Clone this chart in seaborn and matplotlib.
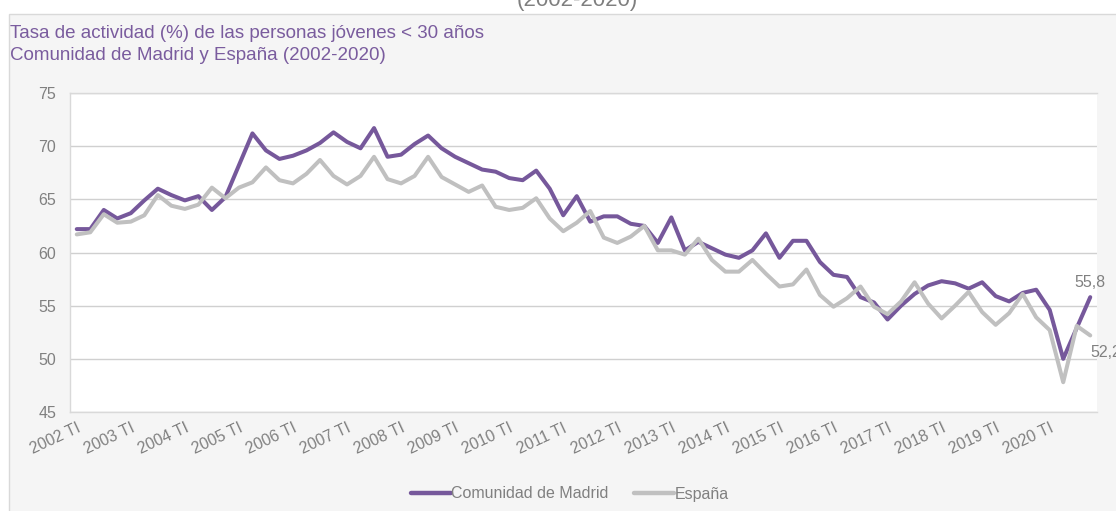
import numpy as np
import pandas as pd
import matplotlib
matplotlib.use("Agg")
import matplotlib.pyplot as plt
from matplotlib.patches import Rectangle
import seaborn as sns

years = list(range(2002, 2021))
quarters = ["TI", "TII", "TIII", "TIV"]
categories = [f"{y} {q}" for y in years for q in quarters]
tick_labels = [f"{y} TI" for y in years]

madrid = [
    62.2, 62.2, 64.0, 63.2, 63.7, 64.9, 66.0, 65.4, 64.9, 65.3,
    64.0, 65.2, 68.2, 71.2, 69.6, 68.8, 69.1, 69.6, 70.3, 71.3,
    70.4, 69.8, 71.7, 69.0, 69.2, 70.2, 71.0, 69.8, 69.0, 68.4,
    67.8, 67.6, 67.0, 66.8, 67.7, 66.0, 63.5, 65.3, 62.9, 63.4,
    63.4, 62.7, 62.5, 60.9, 63.3, 60.2, 61.0, 60.4, 59.8, 59.5,
    60.2, 61.8, 59.5, 61.1, 61.1, 59.1, 57.9, 57.7, 55.8, 55.3,
    53.7, 55.0, 56.1, 56.9, 57.3, 57.1, 56.6, 57.2, 55.9, 55.4,
    56.2, 56.5, 54.6, 50.0, 52.9, 55.8,
]
espana = [
    61.7, 61.9, 63.6, 62.8, 62.9, 63.5, 65.4, 64.4, 64.1, 64.5,
    66.1, 65.1, 66.1, 66.6, 68.0, 66.8, 66.5, 67.4, 68.7, 67.2,
    66.4, 67.2, 69.0, 66.9, 66.5, 67.2, 69.0, 67.1, 66.4, 65.7,
    66.3, 64.3, 64.0, 64.2, 65.1, 63.2, 62.0, 62.8, 63.9, 61.4,
    60.9, 61.5, 62.5, 60.2, 60.2, 59.8, 61.3, 59.3, 58.2, 58.2,
    59.3, 58.0, 56.8, 57.0, 58.4, 56.0, 54.9, 55.7, 56.8, 54.9,
    54.2, 55.4, 57.2, 55.2, 53.8, 55.0, 56.3, 54.4, 53.2, 54.3,
    56.1, 53.9, 52.7, 47.8, 53.1, 52.2,
]

series_names = ["Comunidad de Madrid", "España"]
colors = {"Comunidad de Madrid": "#76589b", "España": "#c0c0c0"}

df = pd.concat([
    pd.DataFrame({"idx": range(len(categories)), "cat": categories,
                  "valor": madrid, "serie": series_names[0]}),
    pd.DataFrame({"idx": range(len(categories)), "cat": categories,
                  "valor": espana, "serie": series_names[1]}),
])

sns.set_theme(style="white")
plt.rcParams["font.family"] = ["Liberation Sans", "DejaVu Sans"]

W, H = 1116, 511
fig = plt.figure(figsize=(W / 100, H / 100), dpi=100, facecolor="white")

# outer chart panel
fig.patches.append(Rectangle((9 / W, -0.05), 1.2, (H - 14) / H + 0.05,
                             transform=fig.transFigure, facecolor="#f5f5f5",
                             edgecolor="#d9d9d9", linewidth=1.0, zorder=-10))

ax = fig.add_axes([70 / W, 1 - 412 / H, (1097 - 70) / W, (412 - 93) / H])
ax.set_zorder(2)
ax.set_facecolor("white")

sns.lineplot(data=df, x="idx", y="valor", hue="serie", palette=colors,
             hue_order=series_names, linewidth=2.9, ax=ax, legend=False,
             sort=False)

ax.set_xlim(-0.5, len(categories) - 0.5)
ax.set_ylim(45, 75)
ax.set_yticks(range(45, 80, 5))
ax.set_xticks([categories.index(t) for t in tick_labels])
ax.set_xticklabels(tick_labels, rotation=25, ha="right",
                   rotation_mode="anchor", color="#808080", fontsize=11.5)
ax.tick_params(axis="y", colors="#808080", labelsize=11.5, length=0, pad=10)
ax.tick_params(axis="x", length=0, pad=6)
ax.set_xlabel("")
ax.set_ylabel("")
ax.grid(axis="y", color="#d0d0d0", linewidth=1.0)
ax.set_axisbelow(True)
for s in ax.spines.values():
    s.set_color("#d9d9d9")
    s.set_linewidth(1.0)
ax.spines["right"].set_visible(False)

# data labels for last points
ax.annotate(f"{madrid[-1]:.1f}".replace(".", ","), (len(madrid) - 1, madrid[-1]),
            xytext=(0, 5), textcoords="offset points", ha="center",
            va="bottom", color="#808080", fontsize=11.5, annotation_clip=False)
ax.annotate(f"{espana[-1]:.1f}".replace(".", ","), (len(espana) - 1, espana[-1]),
            xytext=(0, -12), textcoords="offset points", ha="left",
            va="center", color="#808080", fontsize=11.5, annotation_clip=False)

# titles
fig.text(10 / W, 1 - 33 / H, "Tasa de actividad (%) de las personas jóvenes < 30 años",
         color="#7a5c9e", fontsize=13.5, va="center", ha="left")
fig.text(10 / W, 1 - 55 / H, "Comunidad de Madrid y España (2002-2020)",
         color="#7a5c9e", fontsize=13.5, va="center", ha="left")
fig.text(577 / W, 1 - 6 / H, "(2002-2020)", color="#7f7f7f", fontsize=16,
         va="baseline", ha="center")

# legend
handles = [plt.Line2D([], [], color=colors[n], linewidth=3.2) for n in series_names]
fig.legend(handles, series_names, loc="center", bbox_to_anchor=(570 / W, 1 - 494 / H),
           ncol=2, frameon=False, fontsize=11.5, handlelength=2.5, handletextpad=0.05,
           columnspacing=1.6, labelcolor="#808080")

fig.savefig("out.png", dpi=100, facecolor="white")
